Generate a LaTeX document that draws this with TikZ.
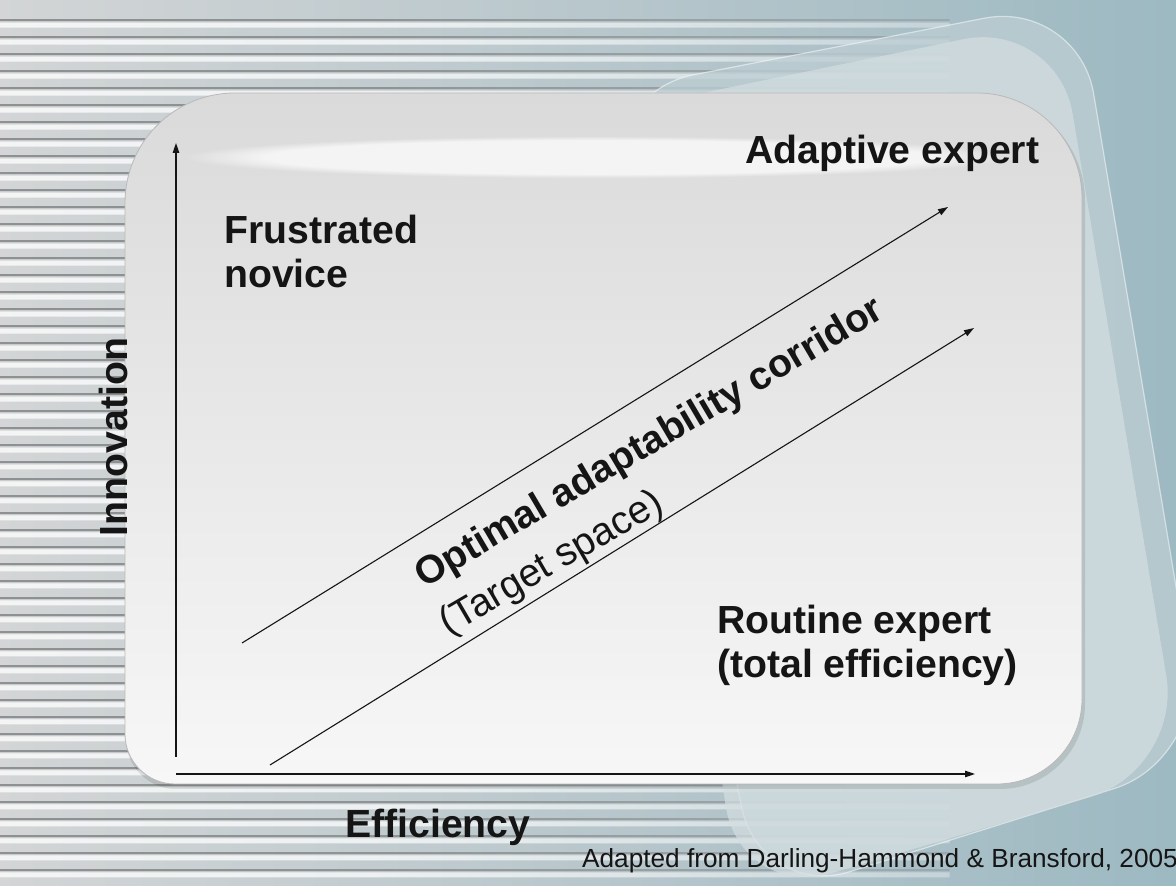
\documentclass[tikz,border=0pt]{standalone}
\usepackage{fontspec}
\setmainfont{Liberation Sans}
\usetikzlibrary{arrows.meta,fadings}

\definecolor{bgL}{HTML}{D3D5D6}
\definecolor{bgM}{HTML}{C4D2D6}
\definecolor{bgR}{HTML}{9DB9C2}
\definecolor{stripeDark}{HTML}{8A8D8E}
\definecolor{panelTop}{HTML}{DADADA}
\definecolor{panelBot}{HTML}{F7F7F7}
\definecolor{layerOut}{HTML}{BDCED3}
\definecolor{layerIn}{HTML}{D4DEE1}
\definecolor{ink}{HTML}{151515}

% stripes fade out towards the right
\pgfdeclarehorizontalshading{stripeshade}{100bp}{color(0bp)=(pgftransparent!0); color(45bp)=(pgftransparent!10); color(100bp)=(pgftransparent!100)}
\pgfdeclarefading{stripefade}{\pgfuseshading{stripeshade}}

\tikzset{
  lab/.style={font=\fontsize{39.2}{44}\selectfont\bfseries, text=ink, inner sep=0pt, anchor=base west, align=left},
  slant/.style={font=\fontsize{39.2}{44}\selectfont, text=ink, inner sep=0pt},
  credit/.style={font=\fontsize{26.2}{30}\selectfont, text=ink, inner sep=0pt, anchor=base west},
  conn/.style={draw=ink, line width=1.1pt, -{Triangle[length=10pt,width=6.5pt]}},
}

\begin{document}
\begin{tikzpicture}[x=1pt,y=1pt]
\useasboundingbox (0,0) rectangle (1176,886);
\clip (0,0) rectangle (1176,886);

% background
\shade[left color=bgL, middle color=bgM, right color=bgR] (0,0) rectangle (1176,886);

% ribbed stripes
\fill[stripeDark, path fading=stripefade]
  \foreach \k in {0,...,52} { (0,886-19-17*\k) rectangle (950,886-21-17*\k) };
\fill[white, opacity=0.8, path fading=stripefade]
  \foreach \k in {0,...,52} { (0,886-22-17*\k) rectangle (950,886-27-17*\k) };

% layered back panels
\fill[layerOut, opacity=0.75, rounded corners=95]
  (600,793) -- (1078,886) -- (1205,126) -- (760,-14) -- cycle;
\draw[white, opacity=0.5, line width=1.2pt, rounded corners=95]
  (600,793) -- (1078,886) -- (1205,126) -- (760,-14) -- cycle;
\fill[layerIn, opacity=0.7, rounded corners=95]
  (620,776) -- (1057,866) -- (1182,116) -- (740,-14) -- cycle;

% main panel: shadow, body, highlight
\fill[black, opacity=0.10]
  (126,146) -- (126,680) arc[start angle=180,end angle=90,radius=110]
  -- (980,790) arc[start angle=90,end angle=0,radius=105]
  -- (1085,182) arc[start angle=0,end angle=-90,radius=85]
  -- (176,97) arc[start angle=270,end angle=180,radius=50] -- cycle;
\shade[top color=panelTop, bottom color=panelBot, draw=gray!55, line width=0.8pt]
  (125,152) -- (125,683) arc[start angle=180,end angle=90,radius=110]
  -- (977,793) arc[start angle=90,end angle=0,radius=105]
  -- (1082,187) arc[start angle=0,end angle=-90,radius=85]
  -- (175,102) arc[start angle=270,end angle=180,radius=50] -- cycle;
\fill[white, opacity=0.7, path fading=circle with fuzzy edge 20 percent]
  (185,708) rectangle (1010,750);

% axes and corridor
\coordinate (yfoot) at (176,129);
\coordinate (ytip)  at (176,743);
\coordinate (xfoot) at (176,112);
\coordinate (xtip)  at (975,112);
\coordinate (ufoot) at (242,243);
\coordinate (utip)  at (948,679);
\coordinate (lfoot) at (270,121);
\coordinate (ltip)  at (974,558);

\draw[conn] (yfoot) -- (ytip);
\draw[conn] (xfoot) -- (xtip);
\draw[conn] (ufoot) -- (utip);
\draw[conn] (lfoot) -- (ltip);

% labels
\node[lab] (adaptive) at (745,722) {Adaptive expert};
\node[lab] (novice) at (224,598) {Frustrated\\novice};
\node[lab] (routine) at (717,208) {Routine expert\\(total efficiency)};
\node[lab] (eff) at (345,48) {Efficiency};
\node[lab, rotate=90, anchor=base] (innov) at (127,449) {Innovation};
\node[slant, rotate=30.5, font=\fontsize{39.2}{44}\selectfont\bfseries] (corridor) at (650,442) {Optimal adaptability corridor};
\node[slant, rotate=30.2] (target) at (552,322) {(Target space)};
\node[credit] (source) at (582,18) {Adapted from Darling-Hammond \& Bransford, 2005};
\end{tikzpicture}
\end{document}
